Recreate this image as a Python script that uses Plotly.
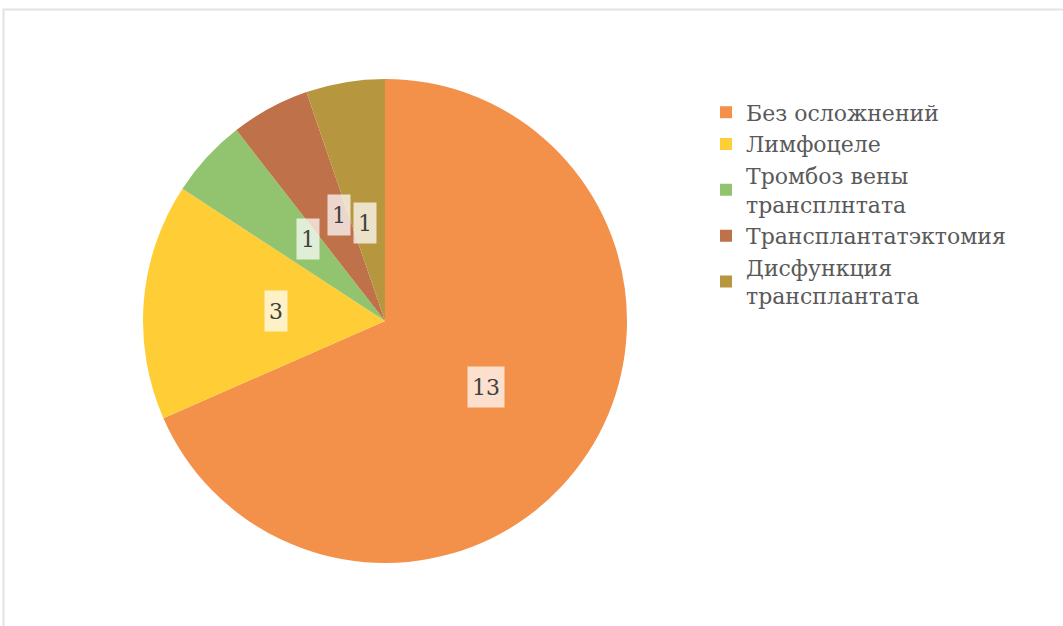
import math
import plotly.graph_objects as go

# Outcome categories and counts
categories = [
    "Без осложнений",
    "Лимфоцеле",
    "Тромбоз вены<br>трансплнтата",
    "Трансплантатэктомия",
    "Дисфункция<br>трансплантата",
]
counts = [13, 3, 1, 1, 1]
slice_colors = ["#F3914B", "#FFCD35", "#92C36F", "#BF7149", "#B6963E"]

W, H = 1063, 626
cx, cy, r = 385, 321, 242  # pie centre and radius in pixels

fig = go.Figure()
fig.add_trace(go.Pie(
    labels=categories,
    values=counts,
    sort=False,
    direction="clockwise",
    rotation=0,
    marker=dict(colors=slice_colors, line=dict(width=0)),
    textinfo="none",
    hoverinfo="label+value",
    domain=dict(x=[(cx - r) / W, (cx + r) / W], y=[(H - cy - r) / H, (H - cy + r) / H]),
))

# Value labels at half radius along each slice's mid-angle
total = sum(counts)
cum = 0
for v in counts:
    frac = (cum + v / 2) / total
    theta = math.radians(90 - 360 * frac)
    px = cx + 0.5 * r * math.cos(theta)
    py = cy - 0.5 * r * math.sin(theta)
    fig.add_annotation(
        x=px / W, y=1 - py / H, xref="paper", yref="paper",
        text=str(v), showarrow=False,
        font=dict(family="DejaVu Serif", size=22, color="#404040"),
        bgcolor="rgba(255,255,255,0.72)", borderpad=4, height=32,
    )
    cum += v

# Light frame around the chart area
fig.add_shape(type="rect", xref="paper", yref="paper",
              x0=3.5 / W, x1=1.2, y0=-0.2, y1=1 - 9.5 / H,
              line=dict(color="#E3E3E3", width=2), fillcolor="rgba(0,0,0,0)")

fig.update_layout(
    width=W, height=H,
    margin=dict(l=0, r=0, t=0, b=0),
    paper_bgcolor="white",
    showlegend=True,
    legend=dict(
        x=706 / W, y=1 - 91.5 / H, xanchor="left", yanchor="top",
        font=dict(family="DejaVu Serif", size=22, color="#595959"),
        itemwidth=30, tracegroupgap=0,
        bgcolor="rgba(0,0,0,0)",
    ),
)

fig.write_html("out.html")
